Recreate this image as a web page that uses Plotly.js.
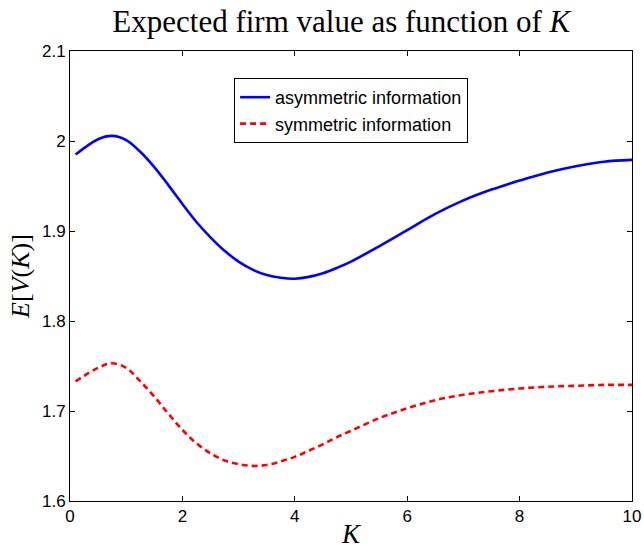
<!DOCTYPE html>
<html>
<head>
<meta charset="utf-8">
<script src="https://cdn.plot.ly/plotly-3.0.1.min.js"></script>
<style>html,body{margin:0;padding:0;background:#fff;}</style>
</head>
<body>
<div id="chart" style="width:644px;height:549px;"></div>
<script>
const kValues = [0.1,0.5,0.75,1.0,1.25,1.5,1.75,2.0,2.25,2.5,2.75,3.0,3.25,3.5,3.75,4.0,4.25,4.5,4.75,5.0,5.5,6.0,6.5,7.0,7.5,8.0,8.5,9.0,9.5,10];
const vAsym = [1.985,2.002,2.0057,2.001,1.988,1.971,1.951,1.930,1.910,1.893,1.878,1.866,1.857,1.851,1.848,1.847,1.849,1.853,1.859,1.866,1.883,1.901,1.919,1.934,1.946,1.956,1.965,1.972,1.977,1.979];
const vSym = [1.733,1.748,1.753,1.748,1.733,1.716,1.697,1.679,1.664,1.653,1.645,1.641,1.639,1.640,1.644,1.649,1.656,1.663,1.671,1.678,1.692,1.703,1.712,1.718,1.722,1.725,1.727,1.728,1.729,1.729];
const names = ['asymmetric information','symmetric information'];
const xTicks = [0,2,4,6,8,10];
const yTicks = [1.6,1.7,1.8,1.9,2.0,2.1];
const yTickText = ['1.6','1.7','1.8','1.9','2','2.1'];

const traces = [
  {x:kValues, y:vAsym, name:names[0], mode:'lines', line:{color:'#0000ff', width:2.6, shape:'spline'}},
  {x:kValues, y:vSym, name:names[1], mode:'lines', line:{color:'#ff0000', width:2.6, shape:'spline', dash:'6px,4px'}}
];
const axisCommon = {
  showgrid:false, zeroline:false, showline:true, linecolor:'#000', linewidth:1,
  mirror:'ticks', ticks:'inside', ticklen:5, tickcolor:'#000',
  tickfont:{family:'Liberation Sans, Arial, sans-serif', size:17, color:'#000'}
};
const layout = {
  width:644, height:549,
  margin:{l:70, r:12, t:51, b:48},
  paper_bgcolor:'#fff', plot_bgcolor:'#fff',
  title:{text:'Expected firm value as function of <i>K</i>', x:0.53, xanchor:'center', y:0.962, yanchor:'middle',
         font:{family:'Liberation Serif, Times New Roman, serif', size:31, color:'#000'}},
  xaxis:Object.assign({}, axisCommon, {range:[0,10], tickvals:xTicks, ticktext:xTicks.map(String),
         title:{text:'<i>K</i>', font:{family:'Liberation Serif, serif', size:27, color:'#000'}, standoff:0}}),
  yaxis:Object.assign({}, axisCommon, {range:[1.6,2.1], tickvals:yTicks, ticktext:yTickText,
         title:{text:'<i>E</i>[<i>V</i>(<i>K</i>)]', font:{family:'Liberation Serif, serif', size:26, color:'#000'}, standoff:4}}),
  showlegend:true,
  legend:{x:0.292, y:0.94, xanchor:'left', yanchor:'top', bgcolor:'#fff', bordercolor:'#000', borderwidth:1,
          font:{family:'Liberation Sans, Arial, sans-serif', size:18, color:'#000'}, tracegroupgap:0, itemwidth:30}
};
Plotly.newPlot('chart', traces, layout, {displayModeBar:false, staticPlot:true});
</script>
</body>
</html>
